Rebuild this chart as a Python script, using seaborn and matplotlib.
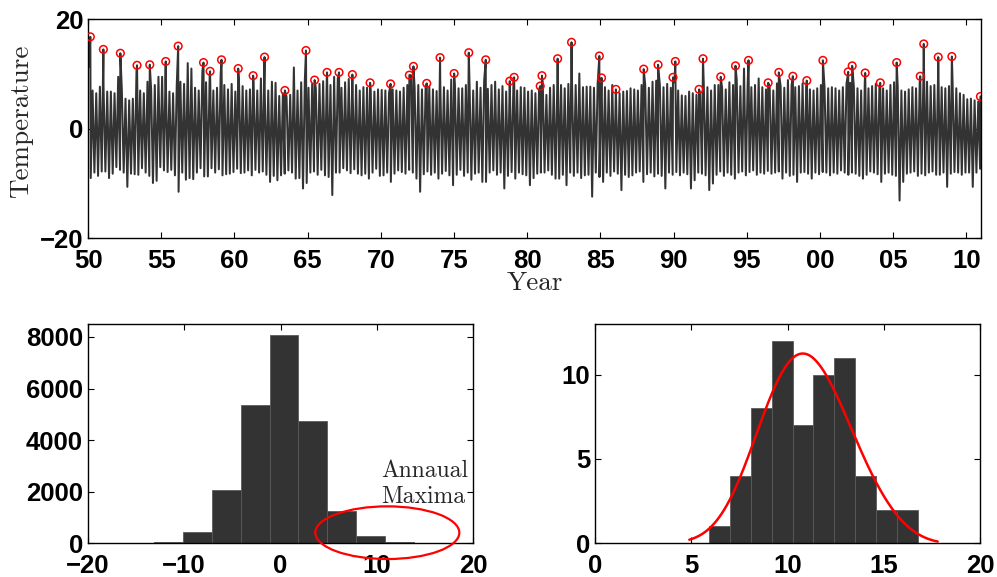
import numpy as np
import pandas as pd
import matplotlib
matplotlib.use("Agg")
import matplotlib.pyplot as plt
from matplotlib.patches import Ellipse
import seaborn as sns

# ---------------------------------------------------------------------------
# Data
# ---------------------------------------------------------------------------
years = list(range(1950, 2011))

# Annual maxima: date (decimal year) and value of each year's highest reading
max_dates = [
    1950.16, 1951.05, 1952.21, 1953.35, 1954.22, 1955.31, 1956.16, 1957.89, 1958.34, 1959.12,
    1960.26, 1961.28, 1962.06, 1963.45, 1964.89, 1965.48, 1966.33, 1967.15, 1968.06, 1969.27,
    1970.67, 1971.95, 1972.23, 1973.14, 1974.05, 1975.01, 1976.01, 1977.17, 1978.81, 1979.11,
    1980.89, 1981.01, 1982.08, 1983.03, 1984.93, 1985.08, 1986.06, 1987.96, 1988.94, 1989.96,
    1990.12, 1991.74, 1992.01, 1993.22, 1994.23, 1995.12, 1996.46, 1997.19, 1998.15, 1999.10,
    2000.20, 2001.93, 2002.20, 2003.09, 2004.12, 2005.24, 2006.85, 2007.09, 2008.08, 2009.01,
    2010.96,
]
annual_max = [
    16.8, 14.5, 13.8, 11.6, 11.7, 12.3, 15.1, 12.1, 10.5, 12.6,
    11.0, 9.7, 13.1, 7.0, 14.3, 8.9, 10.3, 10.3, 9.9, 8.4,
    8.2, 9.8, 11.4, 8.3, 13.0, 10.1, 13.9, 12.6, 8.7, 9.4,
    7.8, 9.7, 12.8, 15.8, 13.3, 9.3, 7.2, 10.9, 11.7, 9.4,
    12.3, 7.2, 12.8, 9.5, 11.5, 12.5, 8.4, 10.3, 9.6, 8.8,
    12.5, 10.4, 11.5, 10.2, 8.4, 12.1, 9.6, 15.5, 13.1, 13.2,
    5.9,
]

# Quarterly highest / lowest daily readings (one row per year, four quarters)
quarter_hi = [
    [11.3, 7.0, 6.5, 7.7], [7.5, 6.8, 6.8, 6.5], [9.5, 7.0, 5.5, 5.2], [5.5, 10.5, 7.0, 6.5],
    [8.6, 7.2, 8.0, 9.5], [9.5, 9.0, 6.8, 6.5], [8.0, 8.6, 8.2, 12.0], [11.0, 7.5, 7.0, 10.5],
    [8.5, 9.8, 7.0, 7.5], [10.0, 8.0, 7.2, 8.2], [6.8, 9.0, 7.8, 7.0], [7.2, 8.5, 7.0, 9.2],
    [8.0, 7.0, 8.6, 8.4], [6.0, 6.5, 5.8, 6.2], [11.2, 7.0, 8.5, 9.0], [7.5, 8.2, 7.4, 8.2],
    [8.7, 9.3, 8.0, 9.5], [9.2, 7.5, 8.5, 9.1], [8.9, 8.0, 7.0, 7.6], [7.5, 7.0, 6.8, 7.2],
    [7.1, 7.0, 6.5, 7.2], [7.0, 6.8, 7.5, 8.0], [9.8, 7.5, 8.0, 7.2], [7.6, 7.7, 7.2, 6.9],
    [8.5, 7.6, 7.0, 9.0], [8.0, 7.4, 7.4, 8.0], [8.2, 7.0, 8.6, 7.5], [8.8, 7.3, 8.0, 8.6],
    [7.2, 7.8, 6.8, 8.0], [8.4, 7.0, 7.6, 7.5], [6.8, 7.0, 6.5, 7.2], [8.5, 6.2, 7.5, 8.0],
    [9.0, 8.0, 7.4, 8.2], [8.5, 8.0, 10.1, 7.6], [7.7, 7.7, 7.5, 8.2], [8.2, 7.6, 7.0, 8.0],
    [6.6, 6.5, 6.8, 6.9], [7.4, 7.2, 7.0, 8.0], [8.0, 7.5, 8.6, 8.8], [8.0, 7.6, 8.2, 7.5],
    [8.5, 7.0, 6.1, 6.0], [6.8, 6.5, 6.2, 6.6], [8.2, 7.6, 7.0, 8.0], [8.0, 7.5, 7.2, 8.5],
    [8.0, 9.0, 7.8, 11.0], [8.4, 7.6, 8.0, 9.2], [7.6, 7.2, 7.8, 7.0], [8.3, 7.8, 7.5, 8.9],
    [8.0, 7.6, 7.8, 8.3], [7.6, 7.2, 7.0, 7.4], [8.0, 7.6, 7.4, 7.6], [7.4, 7.0, 7.6, 8.2],
    [8.4, 7.8, 7.4, 7.0], [8.6, 7.4, 7.8, 8.2], [7.8, 7.4, 7.0, 8.0], [8.5, 7.6, 7.0, 6.8],
    [7.2, 7.6, 7.4, 8.4], [8.6, 8.6, 7.8, 8.0], [9.0, 7.6, 7.4, 7.8], [8.0, 7.4, 6.5, 6.2],
    [5.4, 5.5, 5.2, 5.0],
]
quarter_lo = [
    [-9.0, -8.0, -8.6, -7.8], [-7.8, -9.0, -8.2, -7.0], [-7.5, -8.0, -10.6, -8.2], [-8.3, -8.4, -7.2, -8.0],
    [-8.6, -9.9, -9.5, -7.0], [-7.6, -7.9, -7.5, -8.5], [-11.5, -8.0, -9.3, -9.0], [-9.2, -8.0, -7.2, -8.7],
    [-8.7, -7.2, -8.0, -7.4], [-8.5, -8.3, -8.2, -7.9], [-7.3, -8.1, -8.0, -7.6], [-8.5, -7.5, -8.0, -7.8],
    [-8.4, -9.7, -8.6, -9.4], [-8.5, -8.2, -7.6, -8.0], [-9.1, -9.0, -10.9, -9.9], [-8.0, -7.8, -8.4, -7.5],
    [-8.5, -8.8, -12.1, -8.0], [-8.0, -7.2, -7.6, -8.1], [-7.4, -8.2, -8.5, -8.2], [-9.1, -8.0, -7.3, -8.6],
    [-8.5, -8.0, -9.7, -8.2], [-7.6, -7.9, -8.2, -7.5], [-8.0, -9.1, -11.5, -8.3], [-7.8, -8.4, -8.0, -9.1],
    [-8.2, -7.7, -8.5, -10.3], [-8.4, -7.5, -8.6, -8.0], [-9.3, -8.2, -8.0, -9.7], [-9.7, -8.0, -7.6, -8.4],
    [-8.0, -10.9, -8.6, -7.9], [-9.1, -8.0, -8.3, -8.5], [-10.3, -9.0, -8.2, -8.0], [-8.0, -7.6, -8.4, -9.1],
    [-9.1, -8.4, -10.3, -8.0], [-8.6, -8.0, -9.0, -8.5], [-8.4, -12.4, -8.0, -8.8], [-9.7, -8.0, -8.6, -7.8],
    [-8.2, -11.2, -8.4, -8.8], [-8.5, -8.0, -7.8, -9.7], [-8.3, -8.0, -8.7, -8.2], [-8.6, -10.9, -8.0, -8.4],
    [-7.9, -8.5, -8.0, -8.3], [-10.9, -9.4, -8.0, -8.2], [-8.5, -11.2, -10.0, -8.4], [-7.8, -8.6, -8.0, -8.4],
    [-9.1, -8.0, -7.8, -8.5], [-7.9, -7.6, -8.4, -8.0], [-8.2, -7.7, -8.2, -8.0], [-7.8, -9.1, -8.0, -8.6],
    [-8.4, -9.7, -8.0, -7.9], [-8.2, -9.1, -8.0, -8.3], [-7.9, -8.0, -8.5, -8.0], [-8.2, -7.6, -8.0, -8.4],
    [-8.0, -8.2, -8.6, -9.1], [-8.4, -7.8, -8.0, -8.3], [-9.7, -8.2, -8.0, -8.4], [-8.6, -13.1, -9.7, -8.2],
    [-8.0, -7.8, -8.6, -8.2], [-8.5, -8.0, -7.8, -8.4], [-8.4, -8.0, -10.6, -8.2], [-7.9, -8.0, -8.4, -8.0],
    [-8.0, -10.6, -8.0, -7.3],
]

# Histogram of all daily readings (10 equal bins between the daily min and max)
daily_min, daily_max = -13.1, 16.8
daily_counts = [35, 452, 2065, 5368, 8090, 4748, 1252, 271, 55, 10]

# GEV fit to the annual maxima (shape, location, scale)
gev_shape, gev_loc, gev_scale = -0.25, 10.17, 2.25

# ---------------------------------------------------------------------------
# Style
# ---------------------------------------------------------------------------
sns.set_style("ticks")
plt.rcParams["font.family"] = ["Liberation Sans", "DejaVu Sans"]
plt.rcParams["font.weight"] = "bold"
plt.rcParams["axes.linewidth"] = 1.0
plt.rcParams["axes.edgecolor"] = "black"

BAR = "#333333"
LINE = "#333333"
TICK_FS = 18.5
SERIF = dict(fontfamily="cmr10", fontweight="normal")

W, H = 997, 577
fig = plt.figure(figsize=(W / 100, H / 100), dpi=100)


def rect(x0, y0, x1, y1):
    return [x0 / W, 1 - y1 / H, (x1 - x0) / W, (y1 - y0) / H]


ax_ts = fig.add_axes(rect(88, 19.3, 981, 238.3))
ax_h1 = fig.add_axes(rect(87.7, 324, 473.3, 543.3))
ax_h2 = fig.add_axes(rect(595, 324, 980, 543.3))


def style_axes(ax):
    ax.tick_params(direction="in", length=4, width=0.8, top=True, right=True,
                   labelsize=TICK_FS, colors="black")
    ax.tick_params(axis="x", pad=8)
    ax.tick_params(axis="y", pad=3.5)
    for s in ax.spines.values():
        s.set_visible(True)
        s.set_linewidth(1.0)
        s.set_color("black")
    ax.set_xlabel("")
    ax.set_ylabel("")


# ---------------------------------------------------------------------------
# Top panel: daily series with annual maxima
# ---------------------------------------------------------------------------
hi = np.ravel(quarter_hi)
lo = np.ravel(quarter_lo)
q_start = years[0] + np.arange(hi.size) / 4.0
trace = pd.concat([
    pd.DataFrame({"t": q_start + 1 / 16, "temp": hi}),
    pd.DataFrame({"t": q_start + 3 / 16, "temp": lo}),
    pd.DataFrame({"t": max_dates, "temp": annual_max}),
]).sort_values("t").reset_index(drop=True)

sns.lineplot(data=trace, x="t", y="temp", ax=ax_ts, color=LINE, lw=1.45,
             estimator=None, sort=False)
maxima = pd.DataFrame({"t": max_dates, "temp": annual_max})
sc = sns.scatterplot(data=maxima, x="t", y="temp", ax=ax_ts, marker="o", s=30,
                     linewidth=1.1, zorder=5)
coll = sc.collections[-1]
coll.set_facecolor("none")
coll.set_edgecolor("red")

ax_ts.set_xlim(1950, 2011)
ax_ts.set_ylim(-20, 20)
style_axes(ax_ts)
xt = list(range(1950, 2011, 5))
ax_ts.set_xticks(xt)
ax_ts.set_xticklabels([f"{y % 100:02d}" for y in xt])
ax_ts.set_yticks([-20, 0, 20])
ax_ts.set_yticklabels(["\u221220", "0", "20"])
ax_ts.set_xlabel("Year", fontsize=19.5, **SERIF)
ax_ts.xaxis.set_label_coords(0.5, -0.15)
ax_ts.set_ylabel("Temperature", fontsize=19.5, **SERIF)
ax_ts.yaxis.set_label_coords(-0.062, 0.536)

# ---------------------------------------------------------------------------
# Bottom left: histogram of daily readings
# ---------------------------------------------------------------------------
n_bins = 10
edges = np.linspace(daily_min, daily_max, n_bins + 1)
daily_hist = pd.DataFrame({"temp": (edges[:-1] + edges[1:]) / 2,
                           "days": daily_counts})
sns.histplot(data=daily_hist, x="temp", weights="days", bins=n_bins,
             binrange=(daily_min, daily_max), ax=ax_h1,
             color=BAR, alpha=1, edgecolor="#5a5a5a", linewidth=0.6)
ax_h1.set_xlim(-20, 20)
ax_h1.set_ylim(0, 8500)
style_axes(ax_h1)
ax_h1.set_xticks([-20, -10, 0, 10, 20])
ax_h1.set_xticklabels(["\u221220", "\u221210", "0", "10", "20"])
ax_h1.set_yticks([0, 2000, 4000, 6000, 8000])
ax_h1.add_patch(Ellipse((11.08, 411), 14.94, 2042, fill=False, edgecolor="red",
                        linewidth=1.6, clip_on=False, zorder=6))
ax_h1.text(10.5, 2581, "Annaual", fontsize=17, ha="left", va="baseline", **SERIF)
ax_h1.text(10.45, 1550, "Maxima", fontsize=17, ha="left", va="baseline", **SERIF)

# ---------------------------------------------------------------------------
# Bottom right: histogram of annual maxima with fitted GEV density
# ---------------------------------------------------------------------------
sns.histplot(data=maxima, x="temp", bins=n_bins, ax=ax_h2, color=BAR, alpha=1,
             edgecolor="#5a5a5a", linewidth=0.6)
bin_w = (max(annual_max) - min(annual_max)) / n_bins
xs = np.linspace(min(annual_max) - 1, max(annual_max) + 1, 300)
z = (xs - gev_loc) / gev_scale
tt = np.clip(1 + gev_shape * z, 1e-9, None) ** (-1 / gev_shape)
pdf = tt ** (gev_shape + 1) * np.exp(-tt) / gev_scale
fit = pd.DataFrame({"x": xs, "y": pdf * len(annual_max) * bin_w})
sns.lineplot(data=fit, x="x", y="y", ax=ax_h2, color="red", lw=1.8)
ax_h2.set_xlim(0, 20)
ax_h2.set_ylim(0, 13)
style_axes(ax_h2)
ax_h2.set_xticks([0, 5, 10, 15, 20])
ax_h2.set_yticks([0, 5, 10])

fig.savefig("out.png", dpi=100)
